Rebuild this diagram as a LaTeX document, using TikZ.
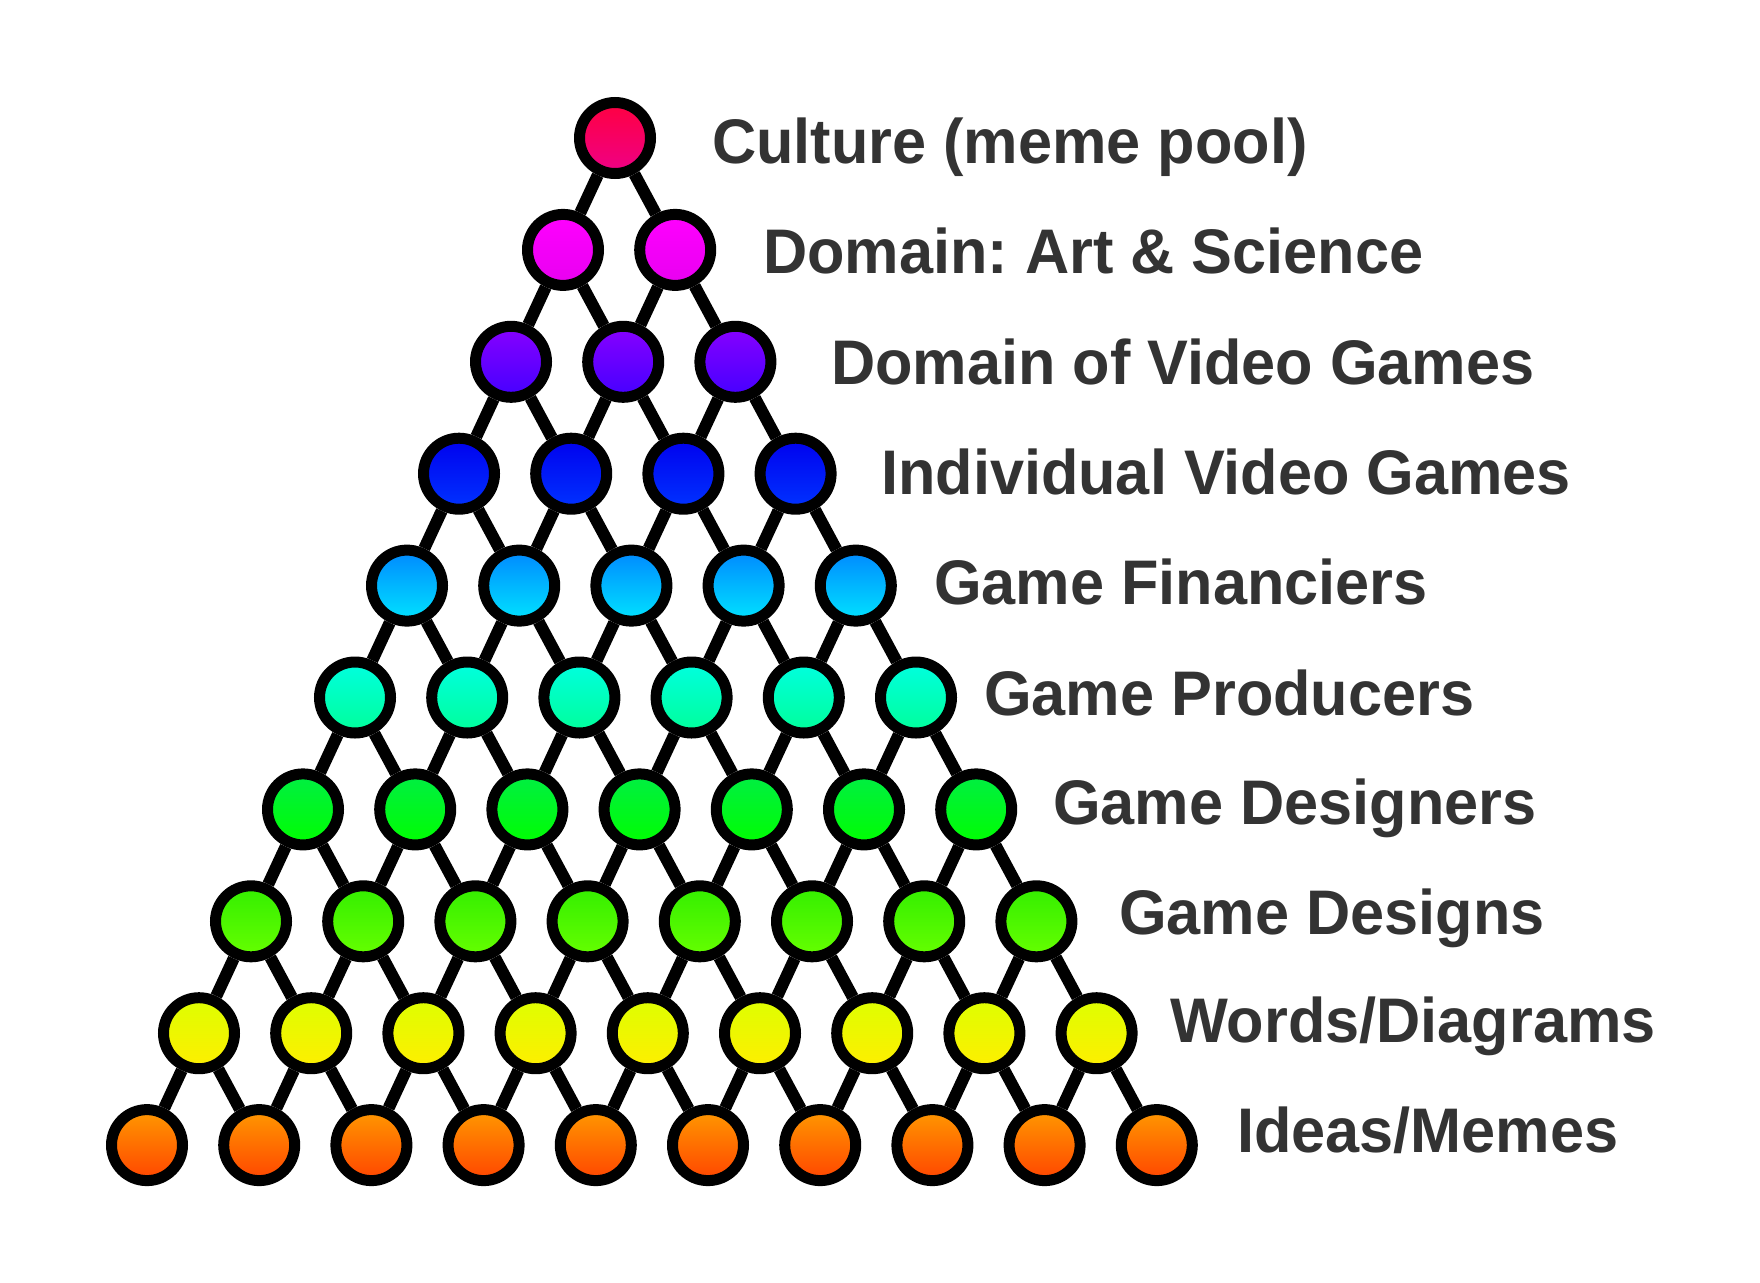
\documentclass[tikz,border=0pt]{standalone}
\usepackage{fontspec}
\setmainfont[FakeStretch=0.972]{Liberation Sans}
\frenchspacing
\definecolor{txt}{HTML}{333333}
\definecolor{r0t}{HTML}{FF0040}\definecolor{r0b}{HTML}{EE0088}
\definecolor{r1t}{HTML}{FF00FF}\definecolor{r1b}{HTML}{E800F0}
\definecolor{r2t}{HTML}{8800FF}\definecolor{r2b}{HTML}{4400FF}
\definecolor{r3t}{HTML}{0000EE}\definecolor{r3b}{HTML}{0033FF}
\definecolor{r4t}{HTML}{0088FF}\definecolor{r4b}{HTML}{00E4FF}
\definecolor{r5t}{HTML}{00FFE0}\definecolor{r5b}{HTML}{00FF99}
\definecolor{r6t}{HTML}{00EE44}\definecolor{r6b}{HTML}{00FF00}
\definecolor{r7t}{HTML}{33EE00}\definecolor{r7b}{HTML}{66FF00}
\definecolor{r8t}{HTML}{DDFF00}\definecolor{r8b}{HTML}{FFEE00}
\definecolor{r9t}{HTML}{FF9900}\definecolor{r9b}{HTML}{FF4400}
\begin{document}
\begin{tikzpicture}[x=1pt,y=-1pt,
  ball/.style={circle,draw=black,line width=11pt,minimum size=71pt,inner sep=0pt},
  link/.style={line width=12pt,draw=black},
  lbl/.style={anchor=base west,inner sep=0pt,text=txt,font=\fontsize{63}{70}\selectfont\bfseries}]
\useasboundingbox (0,0) rectangle (1760,1282);
\foreach \i/\ct/\cb in {0/r0t/r0b,1/r1t/r1b,2/r2t/r2b,3/r3t/r3b,4/r4t/r4b,5/r5t/r5b,6/r6t/r6b,7/r7t/r7b,8/r8t/r8b,9/r9t/r9b}{
  \foreach \j in {0,...,\i}{
    \node[ball,top color=\ct,bottom color=\cb] (n-\i-\j) at ({615-52*\i+112.2*\j},{138+111.9*\i}) {};
  }
}
\foreach \i in {0,...,8}{
  \pgfmathtruncatemacro\k{\i+1}
  \foreach \j in {0,...,\i}{
    \pgfmathtruncatemacro\m{\j+1}
    \draw[link] (n-\i-\j) -- (n-\k-\j);
    \draw[link] (n-\i-\j) -- (n-\k-\m);
  }
}
\node[lbl] (l0) at (712,163) {Culture (meme pool)};
\node[lbl] (l1) at (763,273) {Domain: Art \& Science};
\node[lbl] (l2) at (831,384) {Domain of Video Games};
\node[lbl] (l3) at (881,494) {Individual Video Games};
\node[lbl] (l4) at (934,604) {Game Financiers};
\node[lbl] (l5) at (984,715) {Game Producers};
\node[lbl] (l6) at (1053,824) {Game Designers};
\node[lbl] (l7) at (1119,934) {Game Designs};
\node[lbl] (l8) at (1170,1042) {Words/Diagrams};
\node[lbl] (l9) at (1237,1152) {Ideas/Memes};
\end{tikzpicture}
\end{document}
